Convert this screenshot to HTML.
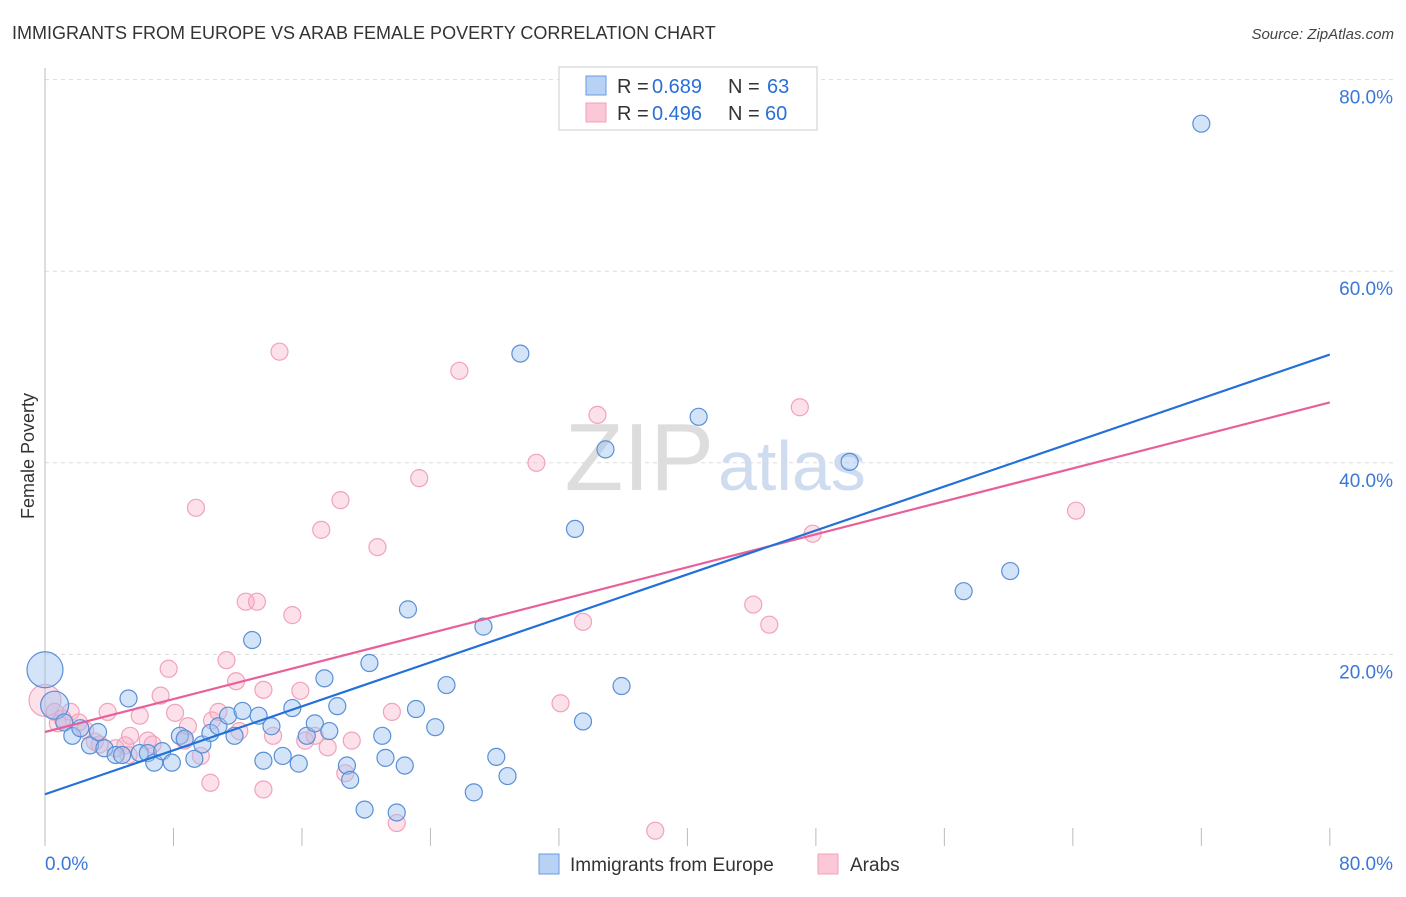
<!DOCTYPE html>
<html><head><meta charset="utf-8"><style>
body{margin:0;background:#fff;font-family:"Liberation Sans",sans-serif;}
svg text{font-family:"Liberation Sans",sans-serif;}
</style></head><body>
<svg id="c" width="1406" height="892" xmlns="http://www.w3.org/2000/svg">
<text x="12" y="39" font-size="18" fill="#333">IMMIGRANTS FROM EUROPE VS ARAB FEMALE POVERTY CORRELATION CHART</text>
<text x="1394" y="39" font-size="15" fill="#444" font-style="italic" text-anchor="end">Source: ZipAtlas.com</text>
<text x="34" y="456" font-size="18" fill="#333" transform="rotate(-90 34 456)" text-anchor="middle">Female Poverty</text>
<g id="grid"></g>
<text x="714" y="490" font-size="96" fill="#ddd" text-anchor="end" font-family="Liberation Serif">ZIP</text>
<text x="718" y="490" font-size="70" fill="#cfdcf0">atlas</text>
<g id="pts"></g>
<g id="lines"></g>
<rect x="559" y="67" width="258" height="63" fill="#fff" stroke="#ccc"/>
<rect x="586" y="76" width="20" height="19" fill="#b8d2f5" stroke="#6a9ae0"/>
<rect x="586" y="103" width="20" height="19" fill="#fcc8d8" stroke="#f0a0b8"/>
<g font-size="20" fill="#333">
<text x="617" y="93">R =</text><text x="652" y="93" fill="#2a6fd6">0.689</text><text x="728" y="93">N =</text><text x="767" y="93" fill="#2a6fd6">63</text>
<text x="617" y="120">R =</text><text x="652" y="120" fill="#2a6fd6">0.496</text><text x="728" y="120">N =</text><text x="765" y="120" fill="#2a6fd6">60</text>
</g>
<rect x="539" y="854" width="20" height="20" fill="#b8d2f5" stroke="#6a9ae0"/>
<text x="570" y="871" font-size="19" fill="#333">Immigrants from Europe</text>
<rect x="818" y="854" width="20" height="20" fill="#fcc8d8" stroke="#f0a0b8"/>
<text x="850" y="871" font-size="19" fill="#333">Arabs</text>
</svg>
<script>
const yTicks=[20,40,60,80];
const xTickLabels=["0.0%","80.0%"];
const blueX=[0,0.6,1.2,1.7,2.2,2.8,3.3,3.7,4.4,4.8,5.2,5.9,6.4,6.8,7.3,7.9,8.4,8.7,9.3,9.8,10.3,10.8,11.4,11.8,12.3,12.9,13.3,13.6,14.1,14.8,15.4,15.8,16.3,16.8,17.4,17.7,18.2,18.8,19,19.9,20.2,21,21.2,21.9,22.4,22.6,23.1,24.3,25,26.7,27.3,28.1,28.8,29.6,33,33.5,34.9,35.9,40.7,50.1,57.2,60.1,72];
const blueY=[18.4,14.7,12.9,11.5,12.3,10.5,11.9,10.2,9.5,9.5,15.4,9.7,9.7,8.7,9.9,8.7,11.5,11.2,9.1,10.6,11.8,12.5,13.6,11.5,14.1,21.5,13.6,8.9,12.5,9.4,14.4,8.6,11.5,12.8,17.5,12.0,14.6,8.4,6.9,3.8,19.1,11.5,9.2,3.5,8.4,24.7,14.3,12.4,16.8,5.6,22.9,9.3,7.3,51.4,33.1,13.0,41.4,16.7,44.8,40.1,26.6,28.7,75.4];
const pinkX=[0,0.6,1.1,1.6,2.1,2.5,3.1,3.9,4.4,5,5.3,5.9,6.4,7.2,7.7,8.1,8.7,8.9,9.4,9.7,10.3,10.4,10.8,11.3,11.9,12.1,12.5,13.2,13.6,13.6,14.2,14.6,15.4,15.9,16.2,16.8,17.2,17.6,18.4,18.7,19.1,20.7,21.6,21.9,23.3,25.8,30.6,32.1,33.5,34.4,38,44.1,45.1,47,47.8,64.2,3.4,6.7,5.2,0.8];
const pinkY=[15.2,14.0,13.3,14.0,12.9,12.1,10.9,14.0,10.2,10.5,11.5,13.6,11.0,15.7,18.5,13.9,11.0,12.5,35.3,9.4,6.6,13.1,14.0,19.4,17.2,12.0,25.5,25.5,16.3,5.9,11.5,51.6,24.1,16.2,11.0,11.5,33.0,10.3,36.1,7.6,11.0,31.2,14.0,2.4,38.4,49.6,40.0,14.9,23.4,45.0,1.6,25.2,23.1,45.8,32.6,35.0,10.6,10.6,9.5,12.8];
const blueLine=[5.4,51.3], pinkLine=[11.9,46.3];
const blueR={0:18,1:14};
const pinkR={0:16};
const NS="http://www.w3.org/2000/svg";
const X=v=>45+v*16.06, Y=v=>846-v*9.58;
function mk(t,a,p){const e=document.createElementNS(NS,t);for(const k in a)e.setAttribute(k,a[k]);p.appendChild(e);return e;}
const g=document.getElementById('grid');
yTicks.forEach(t=>{
 const l=mk('line',{x1:45,x2:1393,y1:Y(t),y2:Y(t),stroke:'#ddd','stroke-dasharray':'4,4'},g);
 
 
 const tx=mk('text',{x:1393,y:Y(t)+24,'font-size':19,fill:'#3a78d8','text-anchor':'end'},g);tx.textContent=t.toFixed(1)+'%';
 
 
});
const ax=mk('line',{x1:45,x2:45,y1:68,y2:846,stroke:'#bbb'},g);


for(let i=0;i<=10;i++){const tk=mk('line',{x1:X(i*8),x2:X(i*8),y1:828,y2:846,stroke:'#bbb'},g);
 
 }
[[0,'start'],[80,'end']].forEach((d,i)=>{const tx=mk('text',{x:i?1393:45,y:870,'font-size':19,fill:'#3a78d8','text-anchor':d[1]},g);tx.textContent=xTickLabels[i];
 
 });
const P=document.getElementById('pts');
pinkX.forEach((v,i)=>{const c=mk('circle',{cx:X(v),cy:Y(pinkY[i]),r:pinkR[i]||8.5,fill:'rgba(246,170,195,0.35)',stroke:'#f2a2bb','stroke-width':1.2},P);
 
 });
blueX.forEach((v,i)=>{const c=mk('circle',{cx:X(v),cy:Y(blueY[i]),r:blueR[i]||8.5,fill:'rgba(160,195,240,0.45)',stroke:'#5a8fd8','stroke-width':1.2},P);
 
 });
const L=document.getElementById('lines');
const pl=mk('line',{x1:X(0),y1:Y(pinkLine[0]),x2:X(80),y2:Y(pinkLine[1]),stroke:'#e8609a','stroke-width':2.2},L);


const bl=mk('line',{x1:X(0),y1:Y(blueLine[0]),x2:X(80),y2:Y(blueLine[1]),stroke:'#2370d8','stroke-width':2.2},L);


</script>
</body></html>
